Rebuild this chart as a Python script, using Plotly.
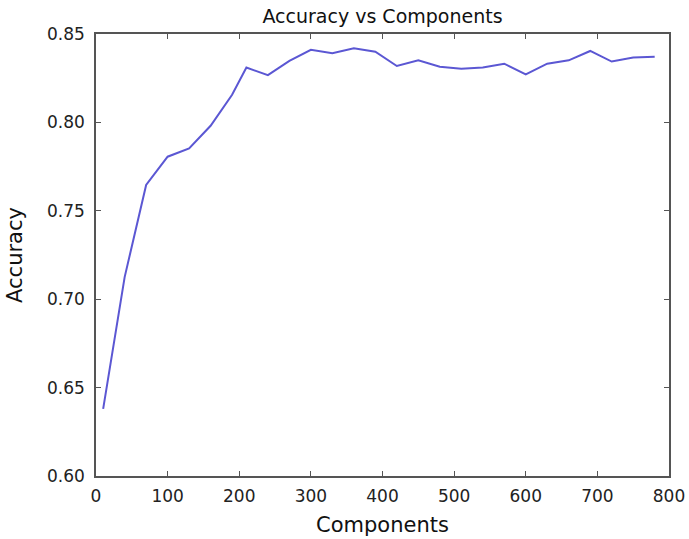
import plotly.graph_objects as go

# Number of components and the resulting accuracy
components = [10, 40, 70, 100, 130, 160, 190, 210, 240, 270, 300, 330, 360, 390,
              420, 450, 480, 510, 540, 570, 600, 630, 660, 690, 720, 750, 780]
accuracy = [0.638, 0.7125, 0.7646, 0.7806, 0.7853, 0.7981, 0.8156, 0.8310, 0.8267,
            0.8348, 0.8411, 0.8391, 0.8419, 0.8400, 0.8319, 0.8351, 0.8315, 0.8304,
            0.8310, 0.8332, 0.8272, 0.8332, 0.8351, 0.8404, 0.8344, 0.8367, 0.8372]

x_ticks = [0, 100, 200, 300, 400, 500, 600, 700, 800]
y_ticks = [0.60, 0.65, 0.70, 0.75, 0.80, 0.85]

FONT = "DejaVu Sans"
FRAME = "#555555"

fig = go.Figure(
    go.Scatter(
        x=components,
        y=accuracy,
        mode="lines",
        line=dict(color="#5b57d3", width=2),
        hoverinfo="x+y",
    )
)

axis_common = dict(
    showline=True,
    linecolor=FRAME,
    linewidth=1.5,
    mirror="ticks",
    ticks="inside",
    ticklen=5,
    tickwidth=1,
    tickcolor=FRAME,
    showgrid=False,
    zeroline=False,
    automargin=False,
    tickfont=dict(family=FONT, size=17, color="#222222"),
)

fig.update_xaxes(
    range=[0, 800],
    tickvals=x_ticks,
    ticktext=[str(v) for v in x_ticks],
    ticklabelstandoff=4,
    title=dict(text="Components", font=dict(family=FONT, size=21, color="#111111"), standoff=12),
    **axis_common,
)
fig.update_yaxes(
    range=[0.60, 0.85],
    tickvals=y_ticks,
    ticktext=[f"{v:.2f}" for v in y_ticks],
    ticklabelstandoff=6,
    title=dict(text="Accuracy", font=dict(family=FONT, size=21, color="#111111"), standoff=19),
    **axis_common,
)

fig.update_layout(
    width=689,
    height=539,
    margin=dict(l=96, r=20, t=34, b=63),
    paper_bgcolor="white",
    plot_bgcolor="white",
    showlegend=False,
    title=dict(
        text="Accuracy vs Components",
        font=dict(family=FONT, size=19, color="#111111"),
        x=382.5 / 689,
        xanchor="center",
        y=1 - 16 / 539,
        yanchor="middle",
    ),
)

fig.write_html("out.html")
